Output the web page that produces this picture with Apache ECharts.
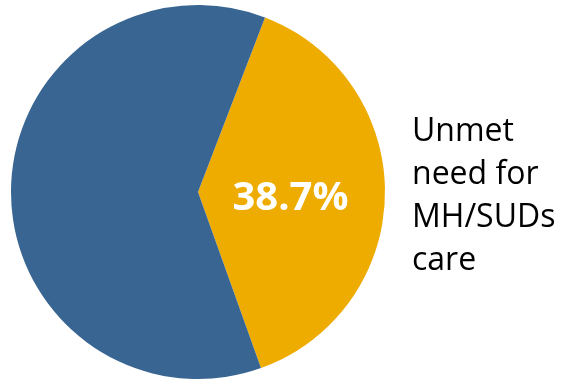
<!DOCTYPE html>
<html>
<head>
<meta charset="utf-8">
<script src="https://cdn.jsdelivr.net/npm/echarts@6/dist/echarts.min.js"></script>
<style>html,body{margin:0;padding:0;background:#fff}#c{width:565px;height:379px}</style>
</head>
<body>
<div id="c"></div>
<script>
const categories = ['Unmet need for MH/SUDs care', 'Other'];
const values = [38.7, 61.3];
const colors = ['#EFAC00', '#386592'];
const sideLabelLines = ['Unmet', 'need for', 'MH/SUDs', 'care'];

const chart = echarts.init(document.getElementById('c'), null, {renderer: 'canvas'});
chart.setOption({
  animation: false,
  series: [{
    type: 'pie',
    center: [198, 192],
    radius: [0, 187],
    startAngle: 69,
    clockwise: true,
    data: categories.map((n, i) => ({
      name: n,
      value: values[i],
      itemStyle: {color: colors[i]},
      label: i === 0 ? {
        show: true,
        position: 'inside',
        offset: [-4, 5],
        formatter: v => v.value.toFixed(1) + '%',
        color: '#fff',
        fontFamily: 'Open Sans',
        fontWeight: 'bold',
        fontSize: 40
      } : {show: false}
    })),
    labelLine: {show: false},
    emphasis: {disabled: true}
  }],
  graphic: [{
    type: 'text',
    left: 412,
    top: 110,
    style: {
      text: sideLabelLines.join('\n'),
      fontFamily: 'Open Sans',
      fontSize: 32,
      lineHeight: 43,
      fill: '#000'
    }
  }]
});
</script>
</body>
</html>
